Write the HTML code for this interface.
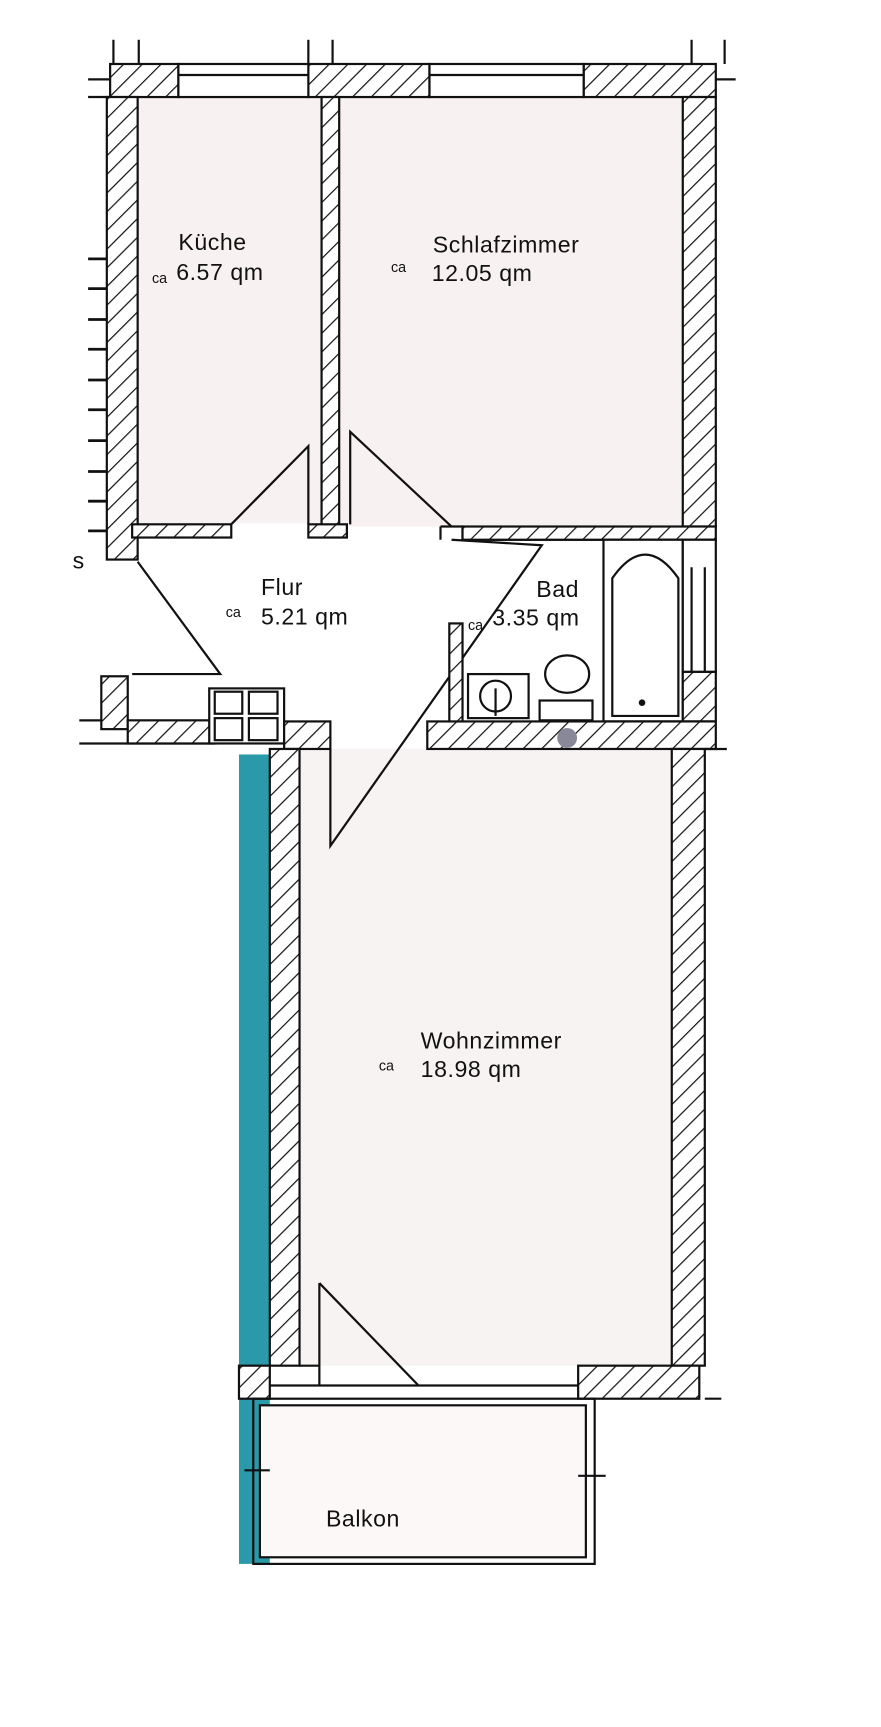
<!DOCTYPE html>
<html><head><meta charset="utf-8"><style>
html,body{margin:0;padding:0;background:#fff;}
svg{display:block;}
text{font-family:"Liberation Sans",sans-serif;fill:#111;}
.t{font-size:21px;letter-spacing:0.5px;}
.ca{font-size:13px;}
</style></head><body>
<svg width="881" height="1727" viewBox="0 0 800 1568" xmlns="http://www.w3.org/2000/svg">
<defs>
<pattern id="h" patternUnits="userSpaceOnUse" width="12" height="12" patternTransform="rotate(45)">
<rect width="12" height="12" fill="#fff"/><line x1="0" y1="0" x2="0" y2="12" stroke="#111" stroke-width="2.2"/>
</pattern>
</defs>
<g stroke="#111" stroke-width="2">
<!-- faint room fill -->
<rect x="125" y="88" width="167" height="387" fill="#f7f1f1" stroke="none"/>
<rect x="308" y="88" width="312" height="390" fill="#f7f1f1" stroke="none"/>
<rect x="272" y="680" width="338" height="560" fill="#f8f3f3" stroke="none"/>
<!-- blue stripe -->
<rect x="217" y="685" width="28" height="735" fill="#2a9aaa" stroke="none"/>
<!-- top wall -->
<rect x="100" y="58" width="62" height="30" fill="url(#h)"/>
<rect x="280" y="58" width="110" height="30" fill="url(#h)"/>
<rect x="530" y="58" width="120" height="30" fill="url(#h)"/>
<rect x="162" y="58" width="118" height="30" fill="#fff"/>
<line x1="162" y1="68" x2="280" y2="68"/>
<rect x="390" y="58" width="140" height="30" fill="#fff"/>
<line x1="390" y1="68" x2="530" y2="68"/>
<line x1="80" y1="72" x2="100" y2="72"/><line x1="80" y1="88" x2="100" y2="88"/>
<!-- grid ticks -->
<line x1="103" y1="36" x2="103" y2="58"/><line x1="126" y1="36" x2="126" y2="58"/>
<line x1="280" y1="36" x2="280" y2="58"/><line x1="302" y1="36" x2="302" y2="58"/>
<line x1="628" y1="36" x2="628" y2="58"/><line x1="658" y1="36" x2="658" y2="58"/>
<line x1="650" y1="72" x2="668" y2="72"/>
<!-- left wall kitchen -->
<rect x="97" y="88" width="28" height="420" fill="url(#h)"/>
<g stroke-width="2.5">
<line x1="80" y1="235" x2="97" y2="235"/><line x1="80" y1="262" x2="97" y2="262"/>
<line x1="80" y1="290" x2="97" y2="290"/><line x1="80" y1="317" x2="97" y2="317"/>
<line x1="80" y1="345" x2="97" y2="345"/><line x1="80" y1="372" x2="97" y2="372"/>
<line x1="80" y1="400" x2="97" y2="400"/><line x1="80" y1="428" x2="97" y2="428"/>
<line x1="80" y1="455" x2="97" y2="455"/><line x1="80" y1="482" x2="97" y2="482"/>
</g>
<!-- middle wall -->
<rect x="292" y="88" width="16" height="390" fill="url(#h)"/>
<!-- right wall -->
<rect x="620" y="88" width="30" height="390" fill="url(#h)"/>
<!-- kitchen bottom wall -->
<rect x="120" y="476" width="90" height="12" fill="url(#h)"/>
<rect x="280" y="476" width="35" height="12" fill="url(#h)"/>
<!-- doors kitchen/schlaf -->
<polyline points="210,476 280,405 280,476" fill="none"/>
<polyline points="318,476 318,392 410,478" fill="none"/>
<!-- bath top wall -->
<polyline points="400,478 420,478 420,490 650,490" fill="none"/>
<rect x="420" y="478" width="230" height="12" fill="url(#h)"/>
<line x1="400" y1="478" x2="400" y2="490"/>
<!-- Flur door diagonals -->
<polyline points="125,510 200,612 120,612" fill="none"/>
<polyline points="410,490 492,495 300,768 300,680" fill="none"/>
<!-- bath left wall -->
<rect x="408" y="566" width="12" height="90" fill="url(#h)"/>
<!-- bathtub -->
<rect x="548" y="490" width="72" height="165" fill="#fff"/>
<path d="M556,650 L556,525 Q586,482 616,525 L616,650 Z" fill="#fff"/>
<circle cx="583" cy="638" r="2" fill="#111"/>
<rect x="620" y="490" width="30" height="120" fill="#fff"/>
<line x1="628" y1="515" x2="628" y2="610"/><line x1="640" y1="515" x2="640" y2="610"/>
<rect x="620" y="610" width="30" height="45" fill="url(#h)"/>
<!-- sink + toilet -->
<rect x="425" y="612" width="55" height="40" fill="#fff"/>
<circle cx="450" cy="632" r="14" fill="#fff"/>
<line x1="450" y1="625" x2="450" y2="650"/>
<ellipse cx="515" cy="612" rx="20" ry="17" fill="#fff"/>
<rect x="490" y="636" width="48" height="18" fill="#fff"/>
<!-- wall under bath -->
<rect x="388" y="655" width="262" height="25" fill="url(#h)"/>
<circle cx="515" cy="670" r="9" fill="#889" stroke="none"/>
<!-- left lower walls -->
<rect x="92" y="614" width="24" height="48" fill="url(#h)"/>
<line x1="72" y1="654" x2="92" y2="654"/><line x1="72" y1="675" x2="195" y2="675"/>
<rect x="116" y="654" width="80" height="21" fill="url(#h)"/>
<rect x="190" y="625" width="68" height="50" fill="#fff"/>
<rect x="195" y="628" width="25" height="20" fill="#fff"/><rect x="226" y="628" width="26" height="20" fill="#fff"/>
<rect x="195" y="652" width="25" height="20" fill="#fff"/><rect x="226" y="652" width="26" height="20" fill="#fff"/>
<rect x="258" y="655" width="42" height="25" fill="url(#h)"/>
<!-- Wohnzimmer walls -->
<rect x="245" y="680" width="27" height="560" fill="url(#h)"/>
<rect x="610" y="680" width="30" height="560" fill="url(#h)"/>
<line x1="640" y1="680" x2="660" y2="680"/><line x1="640" y1="1270" x2="655" y2="1270"/>
<!-- bottom -->
<rect x="217" y="1240" width="28" height="30" fill="url(#h)"/>
<rect x="525" y="1240" width="110" height="30" fill="url(#h)"/>
<line x1="245" y1="1258" x2="525" y2="1258"/>
<line x1="290" y1="1258" x2="290" y2="1165"/>
<polyline points="290,1165 380,1258" fill="none"/>
<line x1="272" y1="1240" x2="290" y2="1240"/>
<!-- balcony -->
<rect x="230" y="1270" width="310" height="150" fill="none"/>
<rect x="236" y="1276" width="296" height="138" fill="#fcf8f8"/>
<line x1="222" y1="1335" x2="245" y2="1335"/><line x1="525" y1="1340" x2="550" y2="1340"/>
</g>
<!-- labels -->
<text class="t" x="162" y="227">Küche</text>
<text class="ca" x="138" y="257">ca</text><text class="t" x="160" y="254">6.57 qm</text>
<text class="t" x="393" y="229">Schlafzimmer</text>
<text class="ca" x="355" y="247">ca</text><text class="t" x="392" y="255">12.05 qm</text>
<text class="t" x="237" y="540">Flur</text>
<text class="ca" x="205" y="560">ca</text><text class="t" x="237" y="567">5.21 qm</text>
<text class="t" x="487" y="542">Bad</text>
<text class="ca" x="425" y="572">ca</text><text class="t" x="447" y="568">3.35 qm</text>
<text class="t" x="382" y="952">Wohnzimmer</text>
<text class="ca" x="344" y="972">ca</text><text class="t" x="382" y="978">18.98 qm</text>
<text class="t" x="296" y="1386">Balkon</text>
<text class="t" x="66" y="516">s</text>
</svg>
</body></html>
